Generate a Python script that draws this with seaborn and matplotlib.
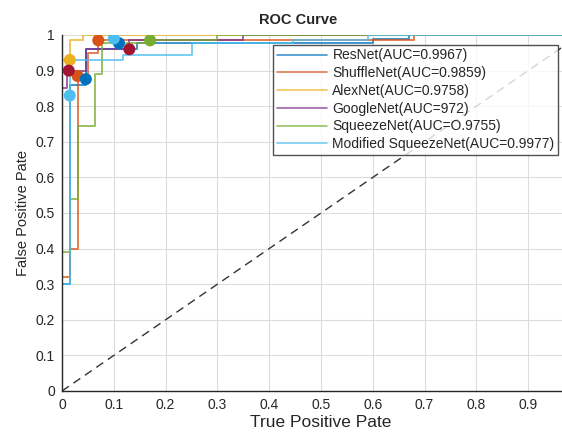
import numpy as np
import pandas as pd
import seaborn as sns
from matplotlib import pyplot as plt

# ROC step curves (fpr, tpr vertices)
models = ["ResNet(AUC=0.9967)", "ShuffleNet(AUC=0.9859)", "AlexNet(AUC=0.9758)",
          "GoogleNet(AUC=972)", "SqueezeNet(AUC=O.9755)", "Modified SqueezeNet(AUC=0.9977)"]

resnet_fpr = [0, 0, 0.015, 0.015, 0.046, 0.046, 0.145, 0.145, 0.60, 0.60, 0.67, 0.67, 1.0]
resnet_tpr = [0, 0.30, 0.30, 0.86, 0.86, 0.96, 0.96, 0.977, 0.977, 0.99, 0.99, 1.0, 1.0]

shuffle_fpr = [0, 0, 0.015, 0.015, 0.03, 0.03, 0.05, 0.05, 0.07, 0.07, 0.68, 0.68, 1.0]
shuffle_tpr = [0, 0.32, 0.32, 0.40, 0.40, 0.88, 0.88, 0.95, 0.95, 0.985, 0.985, 1.0, 1.0]

alex_fpr = [0, 0, 0.015, 0.015, 0.04, 0.04, 1.0]
alex_tpr = [0, 0.93, 0.93, 0.985, 0.985, 1.0, 1.0]

google_fpr = [0, 0, 0.01, 0.01, 0.046, 0.046, 0.13, 0.13, 0.35, 0.35, 1.0]
google_tpr = [0, 0.85, 0.85, 0.90, 0.90, 0.96, 0.96, 0.985, 0.985, 1.0, 1.0]

squeeze_fpr = [0, 0, 0.015, 0.015, 0.031, 0.031, 0.064, 0.064, 0.077, 0.077, 0.17, 0.17, 0.30, 0.30, 1.0]
squeeze_tpr = [0, 0.39, 0.39, 0.54, 0.54, 0.745, 0.745, 0.89, 0.89, 0.977, 0.977, 0.985, 0.985, 1.0, 1.0]

modsq_fpr = [0, 0, 0.015, 0.015, 0.118, 0.118, 0.25, 0.25, 0.446, 0.446, 0.59, 0.59, 1.0]
modsq_tpr = [0, 0.30, 0.30, 0.93, 0.93, 0.944, 0.944, 0.977, 0.977, 0.985, 0.985, 1.0, 1.0]

curves = [(resnet_fpr, resnet_tpr), (shuffle_fpr, shuffle_tpr), (alex_fpr, alex_tpr),
          (google_fpr, google_tpr), (squeeze_fpr, squeeze_tpr), (modsq_fpr, modsq_tpr)]

# operating points (dots)
dot_fpr = [0.07, 0.03, 0.015, 0.013, 0.13, 0.046, 0.11, 0.10, 0.015, 0.17]
dot_tpr = [0.985, 0.885, 0.93, 0.90, 0.96, 0.876, 0.977, 0.99, 0.83, 0.985]
dot_col = ["#D95319", "#D95319", "#EDB120", "#A2142F", "#A2142F", "#0072BD",
           "#0072BD", "#4DBEEE", "#4DBEEE", "#77AC30"]

colors = ["#0072BD", "#D95319", "#EDB120", "#7E2F8E", "#77AC30", "#4DBEEE"]

rows = []
for name, (fx, ty) in zip(models, curves):
    for k, (a, b) in enumerate(zip(fx, ty)):
        rows.append({"model": name, "order": k, "fpr": a, "tpr": b})
df = pd.DataFrame(rows)

sns.set_style("white")
plt.rcParams["font.family"] = ["Liberation Sans", "DejaVu Sans"]

fig = plt.figure(figsize=(5.62, 4.32), dpi=100)
# axes runs past the right edge, as in the cropped original
ax = fig.add_axes([62 / 562, 41 / 432, 518 / 562, 356 / 432])

ax.plot([0, 1], [0, 1], ls=(0, (6, 4)), color="#333333", lw=1)

sns.lineplot(data=df, x="fpr", y="tpr", hue="model", palette=colors, sort=False,
             estimator=None, units="model", lw=1.4, alpha=0.75, ax=ax)

ax.scatter(dot_fpr, dot_tpr, s=75, c=dot_col, zorder=5, edgecolors="none")

ax.set_xlim(0, 1)
ax.set_ylim(0, 1)
ax.set_xticks(np.arange(0, 1.0, 0.1))
ax.set_xticklabels(["0", "0.1", "0.2", "0.3", "0.4", "0.5", "0.6", "0.7", "0.8", "0.9"])
ax.set_yticks(np.arange(0, 1.01, 0.1))
ax.set_yticklabels(["0", "0.1", "0.2", "0.3", "0.4", "0.5", "0.6", "0.7", "0.8", "0.9", "1"])
ax.tick_params(direction="in", length=4, labelsize=10, colors="#262626", pad=5)
ax.grid(True, color="#dcdcdc", lw=0.8)
for s in ["left", "bottom"]:
    ax.spines[s].set_color("#262626")
    ax.spines[s].set_linewidth(1)
ax.spines["top"].set_visible(False)
ax.spines["right"].set_visible(False)

ax.set_xlabel("True Positive Pate", fontsize=12.5, labelpad=2)
ax.set_ylabel("False Positive Pate", fontsize=10.5, labelpad=4)
fig.text(0.53, 0.953, "ROC Curve", ha="center", va="center", fontsize=10.5, fontweight="bold")

leg = ax.legend(loc="upper right", bbox_to_anchor=(558 / 562, 1 - 45 / 432),
                bbox_transform=fig.transFigure, fontsize=10, frameon=True, fancybox=False,
                handlelength=3.6, borderpad=0.25, labelspacing=0.27, handletextpad=0.4,
                borderaxespad=0)
leg.get_frame().set_edgecolor("#262626")
leg.get_frame().set_linewidth(1)
for line in leg.get_lines():
    line.set_linewidth(1.2)

plt.savefig("out.png", dpi=100)
plt.close(fig)
